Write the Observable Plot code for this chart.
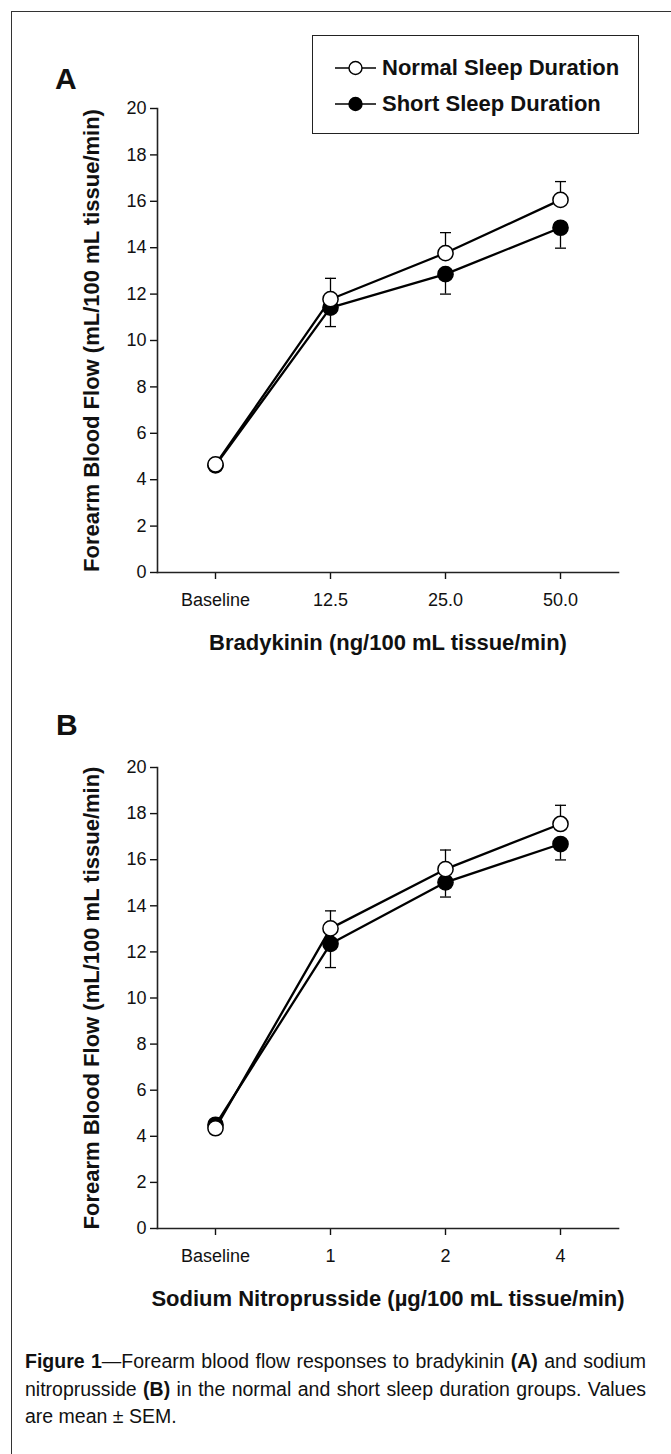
<!DOCTYPE html>
<html>
<head>
<meta charset="utf-8">
<script src="https://cdn.jsdelivr.net/npm/d3@7"></script>
<script src="https://cdn.jsdelivr.net/npm/@observablehq/plot@0.6"></script>
<style>
  html, body { margin: 0; padding: 0; background: #fff; }
  body { width: 671px; height: 1454px; position: relative; overflow: hidden;
         font-family: "Liberation Sans", Arial, sans-serif; color: #111; }
  .outer { position: absolute; left: 11px; top: 11px; width: 800px; height: 1600px;
           border-left: 1.5px solid #333; border-top: 1.5px solid #333; }
  .panel { position: absolute; left: 0; }
  .letter { position: absolute; font-weight: bold; font-size: 30px; line-height: 30px; }
  .legend { position: absolute; left: 312px; top: 35px; width: 327px; height: 99px;
            box-sizing: border-box; border: 1.5px solid #222; background: #fff; }
  .row { position: absolute; left: 0; height: 24px; line-height: 24px; font-size: 22px; font-weight: bold; white-space: nowrap; }
  .row svg { position: absolute; left: 21px; top: 2px; }
  .row span { position: absolute; left: 69px; top: 0; }
  .caption { position: absolute; left: 25px; top: 1348px; width: 621px; font-size: 19.5px;
             line-height: 27.5px; text-align: justify; }
</style>
</head>
<body>
<div class="outer"></div>
<div id="panelA" class="panel" style="top:0px"></div>
<div id="panelB" class="panel" style="top:660px"></div>
<div class="letter" style="left:55px; top:64px">A</div>
<div class="letter" style="left:56px; top:710px">B</div>
<div class="legend" id="legend"></div>
<div class="caption"><b>Figure 1</b>—Forearm blood flow responses to bradykinin <b>(A)</b> and sodium nitroprusside <b>(B)</b> in the normal and short sleep duration groups. Values are mean ± SEM.</div>
<script>
// ---------- data ----------
const groups = ["Normal Sleep Duration", "Short Sleep Duration"];
const yTicks = [0, 2, 4, 6, 8, 10, 12, 14, 16, 18, 20];
const yLabel = "Forearm Blood Flow (mL/100 mL tissue/min)";

const dosesA = ["Baseline", "12.5", "25.0", "50.0"];
const normalA = [4.66, 11.78, 13.77, 16.06];
const normalSemA = [0.15, 0.90, 0.88, 0.79];
const shortA = [4.62, 11.42, 12.86, 14.86];
const shortSemA = [0.15, 0.82, 0.86, 0.88];
const xLabelA = "Bradykinin (ng/100 mL tissue/min)";

const dosesB = ["Baseline", "1", "2", "4"];
const normalB = [4.35, 13.02, 15.59, 17.55];
const normalSemB = [0.15, 0.76, 0.83, 0.81];
const shortB = [4.50, 12.35, 15.02, 16.68];
const shortSemB = [0.15, 1.03, 0.64, 0.69];
const xLabelB = "Sodium Nitroprusside (\u00b5g/100 mL tissue/min)";

// ---------- helpers ----------
const capSymbol = {
  draw(context, size) {
    const r = Math.sqrt(size / Math.PI);
    context.moveTo(-r, 0);
    context.lineTo(r, 0);
  }
};

function rows(doses, vals, sems, group, dir) {
  return doses.map((d, i) => ({
    dose: d, group, value: vals[i],
    lo: dir > 0 ? vals[i] : vals[i] - sems[i],
    hi: dir > 0 ? vals[i] + sems[i] : vals[i],
    cap: dir > 0 ? vals[i] + sems[i] : vals[i] - sems[i]
  }));
}

function panel(doses, nV, nS, sV, sS, xLabel, height, marginTop, marginBottom) {
  const normal = rows(doses, nV, nS, groups[0], 1);
  const short = rows(doses, sV, sS, groups[1], -1);
  const all = normal.concat(short);
  return Plot.plot({
    width: 671, height,
    marginLeft: 157, marginRight: 53, marginTop, marginBottom,
    style: { fontFamily: "'Liberation Sans', Arial, sans-serif", fontSize: "18px", color: "#111", background: "transparent", overflow: "visible" },
    x: { type: "point", domain: doses, padding: 0.5, label: null },
    y: { domain: [0, 20], label: null },
    marks: [
      Plot.axisX({ tickSize: 7, tickPadding: 14, fontSize: 18, strokeWidth: 1.4, label: null }),
      Plot.axisY({ ticks: yTicks, tickSize: 7, tickPadding: 4, fontSize: 18, strokeWidth: 1.4, tickFormat: d3.format("d"), label: null }),
      Plot.frame({ anchor: "left", stroke: "#222", strokeWidth: 1.6 }),
      Plot.frame({ anchor: "bottom", stroke: "#222", strokeWidth: 1.6 }),
      Plot.line(all, { x: "dose", y: "value", z: "group", stroke: "#000", strokeWidth: 2.3 }),
      Plot.ruleX(all, { x: "dose", y1: "lo", y2: "hi", stroke: "#000", strokeWidth: 1.3 }),
      Plot.dot(all, { x: "dose", y: "cap", symbol: capSymbol, r: 5.5, fill: "none", stroke: "#000", strokeWidth: 1.3 }),
      Plot.dot(short, { x: "dose", y: "value", r: 7.6, fill: "#000", stroke: "#000", strokeWidth: 1.5 }),
      Plot.dot(normal, { x: "dose", y: "value", r: 7.6, fill: "#fff", stroke: "#000", strokeWidth: 1.5 }),
      Plot.text([xLabel], { text: d => d, frameAnchor: "bottom", dy: 70, fontSize: 22, fontWeight: "bold", lineAnchor: "middle", textAnchor: "middle", fill: "#111" }),
      Plot.text([yLabel], { text: d => d, frameAnchor: "left", dx: -66, rotate: -90, fontSize: 22, fontWeight: "bold", lineAnchor: "middle", textAnchor: "middle", fill: "#111" })
    ]
  });
}

document.getElementById("panelA").append(
  panel(dosesA, normalA, normalSemA, shortA, shortSemA, xLabelA, 680, 108, 108)
);
document.getElementById("panelB").append(
  panel(dosesB, normalB, normalSemB, shortB, shortSemB, xLabelB, 680, 107, 112)
);

// ---------- legend ----------
const legend = document.getElementById("legend");
const fills = ["#fff", "#000"];
const tops = [20, 56];
groups.forEach((g, i) => {
  const row = document.createElement("div");
  row.className = "row";
  row.style.top = tops[i] + "px";
  row.innerHTML =
    `<svg width="44" height="20" viewBox="0 0 44 20">
       <line x1="1" y1="10" x2="42" y2="10" stroke="#000" stroke-width="1.6"/>
       <circle cx="21.5" cy="10" r="6.5" fill="${fills[i]}" stroke="#000" stroke-width="1.4"/>
     </svg><span>${g}</span>`;
  legend.append(row);
});
</script>
</body>
</html>
